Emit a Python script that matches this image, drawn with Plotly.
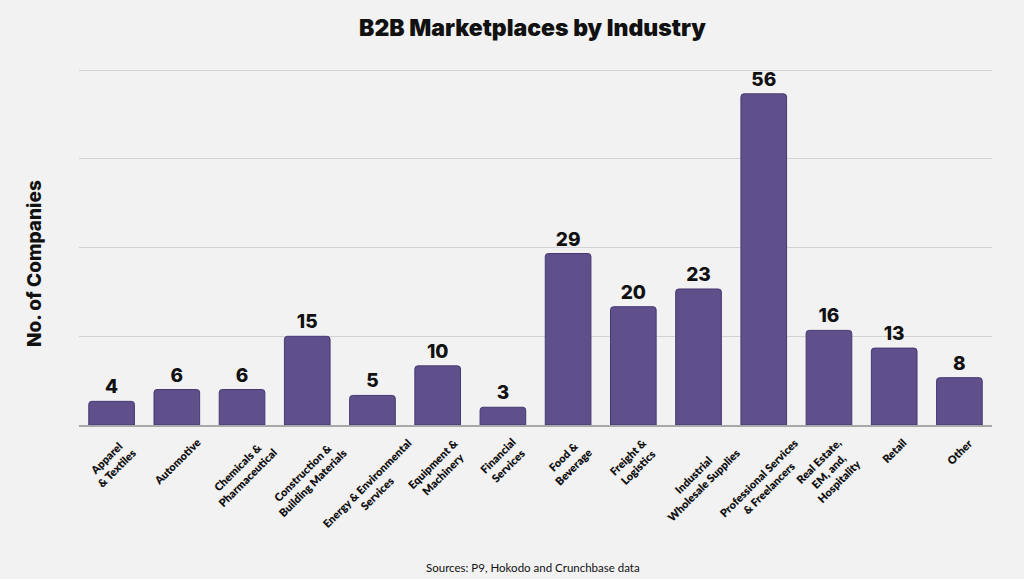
import plotly.graph_objects as go

industries = [
    "Apparel<br>& Textiles", "Automotive", "Chemicals &<br>Pharmaceutical",
    "Construction &<br>Building Materials", "Energy & Environmental<br>Services",
    "Equipment &<br>Machinery", "Financial<br>Services", "Food &<br>Beverage",
    "Freight &<br>Logistics", "Industrial<br>Wholesale Supplies",
    "Professional Services<br>& Freelancers", "Real Estate,<br>EM, and,<br>Hospitality",
    "Retail", "Other",
]
companies = [4, 6, 6, 15, 5, 10, 3, 29, 20, 23, 56, 16, 13, 8]
grid_vals = [0, 15, 30, 45, 60]

bar_color = "#5f4f8b"
bg = "#f2f2f2"

fig = go.Figure()
fig.add_trace(go.Bar(
    x=industries, y=companies,
    marker=dict(color=bar_color, line=dict(color="#463872", width=1)),
    text=companies, textposition="outside", cliponaxis=False,
    textfont=dict(family="Inter", size=19, color="#111", weight=800),
))

fig.update_layout(
    width=1024, height=579,
    paper_bgcolor=bg, plot_bgcolor=bg,
    margin=dict(l=79, r=32, t=69, b=154),
    bargap=0.3, barcornerradius=3,
    showlegend=False,
    title=dict(text="B2B Marketplaces by Industry", x=0.52, xanchor="center",
               y=0.951, yanchor="middle",
               font=dict(family="Inter", size=23, color="#111", weight=900)),
)
fig.update_yaxes(range=[0, 60.2], tickvals=grid_vals, showticklabels=False,
                 gridcolor="#d2d2d2", gridwidth=1, zeroline=False, fixedrange=True)
fig.update_xaxes(showline=True, linecolor="#a8a8a8", linewidth=2,
                 ticks="", showticklabels=False)

# category labels: rotated, centred under each bar
for name in industries:
    fig.add_annotation(text=name, x=name, xref="x", y=0, yref="paper",
                       xanchor="center", yanchor="top", yshift=-8,
                       textangle=-45, showarrow=False, align="center",
                       font=dict(family="Lato", size=11, color="#111", weight=800))

fig.add_annotation(text="No. of Companies", textangle=-90, xref="paper", yref="paper",
                   x=0, y=0.5, xanchor="center", yanchor="middle",
                   xshift=-45, yshift=-17, showarrow=False,
                   font=dict(family="Inter", size=19, color="#111", weight=800))
fig.add_annotation(text="Sources: P9, Hokodo and Crunchbase data", xref="paper", yref="paper",
                   x=0.497, y=0, yshift=-142, xanchor="center", yanchor="middle",
                   showarrow=False,
                   font=dict(family="Lato", size=11.5, color="#111"))

# browser default body margin would shift the chart by 8px
fig.write_html("out.html", config={"displayModeBar": False},
               post_script="document.body.style.margin='0';")
